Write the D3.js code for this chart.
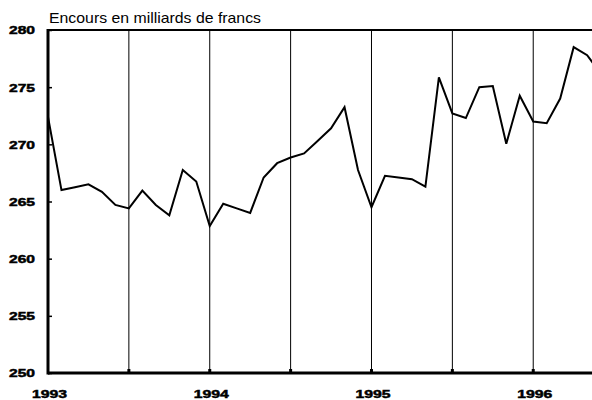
<!DOCTYPE html>
<html lang="fr">
<head>
<meta charset="utf-8">
<title>Encours en milliards de francs</title>
<style>
  body { margin: 0; background: #fff; }
  svg { display: block; }
  text { font-family: "Liberation Sans", Arial, Helvetica, sans-serif; fill: #000; }
  .ylab, .xlab { font-weight: bold; font-size: 11.5px; stroke: #000; stroke-width: 0.5px; }
  .title { font-size: 15px; }
</style>
</head>
<body>
<div id="chart"></div>
<script src="https://cdn.jsdelivr.net/npm/d3@7"></script>
<script>
// monthly values, Jan 1993 onwards (index = months since Jan 1993)
var values = [272.4, 266.0, 266.25, 266.5, 265.85, 264.7, 264.4, 265.95, 264.7, 263.8, 267.75, 266.75,
              262.85, 264.8, 264.4, 264.0, 267.1, 268.35, 268.85, 269.2, 270.3, 271.4, 273.25, 267.75,
              264.5, 267.25, 267.1, 266.95, 266.3, 275.85, 272.7, 272.3, 275.0, 275.1, 270.05, 274.25,
              272.0, 271.85, 274.0, 278.5, 277.8, 276.2];
var years = ["1993", "1994", "1995", "1996"];
var yearMonths = [0, 12, 24, 36];
var gridMonths = [6, 12, 18, 24, 30, 36];
var yTicks = [250, 255, 260, 265, 270, 275, 280];

var width = 592, height = 400;
var plotLeft = 48, plotTop = 30, plotBottom = 373;

var svg = d3.select('#chart').append('svg')
  .attr('width', width).attr('height', height);

var x = d3.scaleLinear().domain([0, 40.36]).range([plotLeft, width]);
var y = d3.scaleLinear().domain([250, 280]).range([plotBottom, plotTop]);

svg.append('defs').append('clipPath').attr('id', 'clip')
  .append('rect').attr('x', plotLeft).attr('y', 0).attr('width', width - plotLeft).attr('height', height);

// vertical half-year lines
svg.append('g').selectAll('line').data(gridMonths).enter().append('line')
  .attr('x1', function(d){ return x(d); }).attr('x2', function(d){ return x(d); })
  .attr('y1', plotTop).attr('y2', plotBottom)
  .attr('stroke', '#000').attr('stroke-width', 1);

// small marks at the foot of each line
svg.append('g').selectAll('rect').data(gridMonths).enter().append('rect')
  .attr('x', function(d){ return x(d) - 1.5; }).attr('y', plotBottom - 4)
  .attr('width', 3).attr('height', 4).attr('fill', '#000');

// y axis
var yAxis = svg.append('g').attr('transform', 'translate(' + plotLeft + ',0)')
  .call(d3.axisRight(y).tickValues(yTicks).tickSize(4).tickFormat(''));
yAxis.select('.domain').remove();
yAxis.selectAll('line').attr('stroke', '#000').attr('stroke-width', 1.5);

// wide, squat labels like the original
svg.append('g').selectAll('text').data(yTicks).enter().append('text')
  .attr('class', 'ylab')
  .attr('x', 35).attr('y', function(d){ return y(d) + 4.4; })
  .attr('text-anchor', 'end')
  .attr('textLength', 26).attr('lengthAdjust', 'spacingAndGlyphs')
  .text(function(d){ return d; });

// frame: left, top, bottom
svg.append('line').attr('x1', plotLeft).attr('x2', plotLeft).attr('y1', plotTop - 1).attr('y2', plotBottom + 1.5)
  .attr('stroke', '#000').attr('stroke-width', 3);
svg.append('line').attr('x1', plotLeft).attr('x2', width).attr('y1', plotTop).attr('y2', plotTop)
  .attr('stroke', '#000').attr('stroke-width', 2);
svg.append('line').attr('x1', plotLeft).attr('x2', width).attr('y1', plotBottom).attr('y2', plotBottom)
  .attr('stroke', '#000').attr('stroke-width', 3);

// x labels
svg.append('g').selectAll('text').data(years).enter().append('text')
  .attr('class', 'xlab')
  .attr('x', function(d, i){ return x(yearMonths[i]) + 1.5; })
  .attr('y', 398)
  .attr('text-anchor', 'middle')
  .attr('textLength', 35).attr('lengthAdjust', 'spacingAndGlyphs')
  .text(function(d){ return d; });

// title
svg.append('text').attr('class', 'title')
  .attr('x', 49).attr('y', 23)
  .attr('textLength', 212).attr('lengthAdjust', 'spacingAndGlyphs')
  .text('Encours en milliards de francs');

// series
var line = d3.line()
  .x(function(d, i){ return x(i); })
  .y(function(d){ return y(d); });

svg.append('path').datum(values)
  .attr('clip-path', 'url(#clip)')
  .attr('d', line)
  .attr('fill', 'none')
  .attr('stroke', '#000')
  .attr('stroke-width', 2)
  .attr('stroke-linejoin', 'miter');
</script>
</body>
</html>
